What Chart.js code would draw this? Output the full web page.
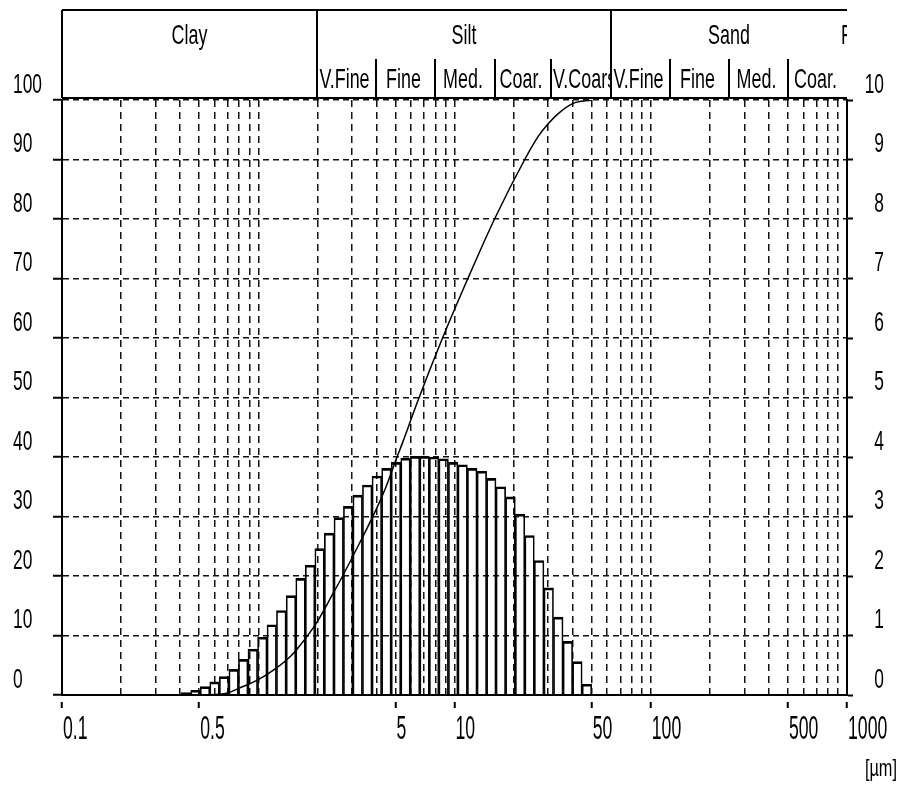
<!DOCTYPE html>
<html>
<head>
<meta charset="utf-8">
<title>Particle size distribution</title>
<script src="https://cdn.jsdelivr.net/npm/chart.js@4.4.1/dist/chart.umd.min.js"></script>
<style>
  html, body { margin: 0; padding: 0; background: #fff; }
  canvas { display: block; }
</style>
</head>
<body>
<canvas id="psd" width="903" height="785"></canvas>
<script>
// histogram bins: centre size in µm and % per bin (right axis)
const binSizes = [
    0.428, 0.479, 0.535, 0.599, 0.670, 0.749, 0.838, 0.937, 1.05, 1.17,
    1.31, 1.47, 1.64, 1.84, 2.05, 2.30, 2.57, 2.87, 3.21, 3.59,
    4.02, 4.50, 5.03, 5.63, 6.29, 7.04, 7.87, 8.80, 9.85, 11.0,
    12.3, 13.8, 15.4, 17.2, 19.3, 21.6, 24.1, 27.0, 30.2, 33.8,
    37.8, 42.3, 47.3
];
const binPercent = [
    0.04, 0.08, 0.14, 0.22, 0.31, 0.43, 0.60, 0.77, 0.97, 1.18,
    1.42, 1.67, 1.96, 2.18, 2.46, 2.72, 2.98, 3.17, 3.36, 3.53,
    3.68, 3.81, 3.91, 3.98, 4.01, 4.01, 4.00, 3.97, 3.91, 3.87,
    3.81, 3.76, 3.64, 3.50, 3.33, 3.04, 2.68, 2.26, 1.80, 1.31,
    0.90, 0.56, 0.18
];

// cumulative curve (left axis)
const cumSizes = [
    0.40, 0.55, 0.67, 0.82, 0.99, 1.21, 1.47, 1.62, 1.97, 2.39,
    2.69, 3.28, 3.99, 4.48, 5.04, 5.45, 6.48, 8.69, 11.7, 16.0,
    22.8, 26.6, 30.0, 34.0, 40.0, 50.0
];
const cumPercent = [
    0, 0.05, 0.2, 1.3, 2.5, 4.3, 6.6, 8.2, 12.0, 16.9,
    20.0, 25.5, 31.2, 35.0, 39.6, 42.5, 49.3, 60, 70, 80,
    90, 93.8, 96.0, 97.8, 99.4, 100
];

// x grid lines, and the ones that get a label
const gridSizes = [
    0.1, 0.2, 0.3, 0.4, 0.5, 0.6, 0.7, 0.8, 0.9,
    1, 2, 3, 4, 5, 6, 7, 8, 9,
    10, 20, 30, 40, 50, 60, 70, 80, 90,
    100, 200, 300, 400, 500, 600, 700, 800, 900, 1000
];
const labelledSizes = [0.1, 0.5, 5, 10, 50, 100, 500, 1000];

// header strip
const classBounds = [2, 63];
const classNames = ['Clay', 'Silt', 'Sand', 'F'];
const subBounds = [2, 4, 8, 16, 31, 63, 125, 250, 500, 1000, 2000];
const subNames = ['V.Fine', 'Fine', 'Med.', 'Coar.', 'V.Coarse', 'V.Fine', 'Fine', 'Med.', 'Coar.', 'V.Coarse'];

const FONT = '"Liberation Sans", Arial, sans-serif';

// the original uses a very tall, narrow face, so text is squeezed sideways
function narrowText(ctx, text, x, y, align, sx) {
    ctx.save();
    ctx.translate(x, y);
    ctx.scale(sx, 1);
    ctx.textAlign = align;
    ctx.fillText(text, 0, 0);
    ctx.restore();
}

const axisLabels = {
    id: 'axisLabels',
    afterDraw(chart) {
        const { ctx } = chart;
        const { x, y, y1 } = chart.scales;
        ctx.save();
        ctx.fillStyle = '#000';
        ctx.textBaseline = 'middle';

        ctx.font = '28px ' + FONT;
        y.ticks.forEach(t => {
            narrowText(ctx, t.label, 13, y.getPixelForValue(t.value) - 15, 'left', 0.62);
        });
        y1.ticks.forEach(t => {
            narrowText(ctx, t.label, 884, y1.getPixelForValue(t.value) - 15, 'right', 0.62);
        });

        ctx.font = '34px ' + FONT;
        x.ticks.forEach(t => {
            if (!labelledSizes.includes(t.value)) return;
            narrowText(ctx, String(t.value), x.getPixelForValue(t.value) + 1, 730, 'left', 0.52);
        });

        ctx.font = '24px ' + FONT;
        narrowText(ctx, '[µm]', 897, 769, 'right', 0.68);
        ctx.restore();
    }
};

const headerStrip = {
    id: 'headerStrip',
    afterDraw(chart) {
        const { ctx, chartArea } = chart;
        const xs = chart.scales.x;
        const left = chartArea.left;
        const right = chartArea.right;
        const top = chartArea.top - 90;
        const bottom = chartArea.top - 2;
        const mid = chartArea.top - 41;
        const px = v => Math.round(xs.getPixelForValue(v));
        const sx = 0.64;

        ctx.save();
        ctx.strokeStyle = '#000';
        ctx.lineWidth = 2;
        ctx.beginPath();
        ctx.moveTo(left, top); ctx.lineTo(right, top);
        ctx.moveTo(left, bottom); ctx.lineTo(right, bottom);
        ctx.moveTo(left, top); ctx.lineTo(left, bottom);
        classBounds.forEach(v => {
            ctx.moveTo(px(v), top); ctx.lineTo(px(v), bottom);
        });
        subBounds.forEach(v => {
            if (classBounds.includes(v) || px(v) >= right) return;
            ctx.moveTo(px(v), mid); ctx.lineTo(px(v), bottom);
        });
        ctx.stroke();

        ctx.fillStyle = '#000';
        ctx.textBaseline = 'middle';
        ctx.font = '28px ' + FONT;

        // class names, centred in the visible part of each class
        const edges = [left, px(classBounds[0]), px(classBounds[1]), right];
        for (let i = 0; i < 3; i++) {
            narrowText(ctx, classNames[i], (edges[i] + edges[i + 1]) / 2, top + 26, 'center', sx);
        }
        // the next class only just shows at the right edge
        ctx.save();
        ctx.beginPath();
        ctx.rect(right - 10, top, 10, 60);
        ctx.clip();
        narrowText(ctx, classNames[3], right - 6, top + 26, 'left', sx);
        ctx.restore();

        // sub-classes
        ctx.font = '28px ' + FONT;
        for (let i = 0; i < subNames.length; i++) {
            const a = Math.max(px(subBounds[i]), left);
            const b = Math.min(px(subBounds[i + 1]), right);
            if (b - a < 4) continue;
            const w = ctx.measureText(subNames[i]).width * sx;
            ctx.save();
            ctx.beginPath();
            ctx.rect(a + 1, mid, b - a - 2, bottom - mid);
            ctx.clip();
            if (w > b - a - 3) {
                narrowText(ctx, subNames[i], a + 2, mid + 21, 'left', sx);
            } else {
                narrowText(ctx, subNames[i], (a + b) / 2 - 2, mid + 21, 'center', sx);
            }
            ctx.restore();
        }
        ctx.restore();
    }
};

new Chart(document.getElementById('psd'), {
    type: 'bar',
    data: {
        datasets: [{
            type: 'line',
            label: 'Cumulative',
            data: cumSizes.map((s, i) => ({ x: s, y: cumPercent[i] })),
            yAxisID: 'y',
            borderColor: '#000',
            borderWidth: 1.5,
            pointRadius: 0,
            cubicInterpolationMode: 'monotone',
            order: 0
        }, {
            type: 'bar',
            label: 'Frequency',
            data: binSizes.map((s, i) => ({ x: s, y: binPercent[i] })),
            yAxisID: 'y1',
            backgroundColor: 'rgba(0,0,0,0)',
            borderColor: '#000',
            borderWidth: { top: 2, left: 1, right: 1, bottom: 0 },
            barThickness: 'flex',
            categoryPercentage: 1,
            barPercentage: 1,
            order: 1
        }]
    },
    options: {
        responsive: false,
        animation: false,
        layout: { padding: { top: 100, left: 13, right: 18, bottom: 0 } },
        plugins: {
            legend: { display: false },
            tooltip: { enabled: false }
        },
        scales: {
            x: {
                type: 'logarithmic',
                min: 0.1,
                max: 1000,
                offset: false,
                afterBuildTicks: scale => {
                    scale.ticks = gridSizes.map(v => ({ value: v }));
                },
                afterFit: scale => {
                    scale.height = 90;
                    scale.paddingLeft = 0;
                    scale.paddingRight = 0;
                },
                grid: {
                    offset: false,
                    color: '#111',
                    lineWidth: 1.5,
                    tickLength: 13,
                    tickWidth: 2,
                    tickBorderDash: [0, 6, 7, 40],
                    tickColor: c => (c.tick && labelledSizes.includes(c.tick.value)) ? '#000' : 'rgba(0,0,0,0)'
                },
                border: { color: '#000', width: 2, dash: [7, 5] },
                ticks: { display: false, autoSkip: false, maxRotation: 0 }
            },
            y: {
                position: 'left',
                min: 0,
                max: 100,
                afterFit: scale => { scale.width = 49; },
                grid: {
                    color: '#111',
                    lineWidth: 1.5,
                    tickLength: 9,
                    tickWidth: 2,
                    tickColor: '#000',
                    tickBorderDash: []
                },
                border: { color: '#000', width: 2, dash: [6, 4] },
                ticks: { display: false, stepSize: 10 }
            },
            y1: {
                position: 'right',
                min: 0,
                max: 10,
                afterFit: scale => { scale.width = 38; },
                grid: {
                    drawOnChartArea: false,
                    tickLength: 6,
                    tickWidth: 2,
                    tickColor: '#000',
                    tickBorderDash: []
                },
                border: { color: '#000', width: 2 },
                ticks: { display: false, stepSize: 1 }
            }
        }
    },
    plugins: [headerStrip, axisLabels]
});
</script>
</body>
</html>
